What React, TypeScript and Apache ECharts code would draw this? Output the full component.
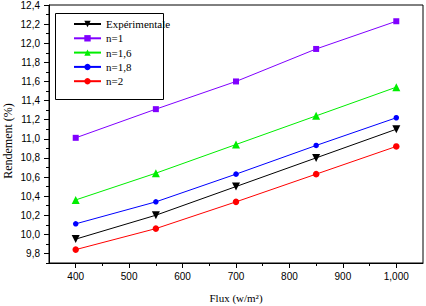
import React, { useEffect, useRef } from "react";
import * as echarts from "echarts";

const fluxValues = [400, 550, 700, 850, 1000];
const experimentale = [9.95, 10.2, 10.5, 10.8, 11.1];
const n1 = [11.01, 11.31, 11.6, 11.94, 12.23];
const n16 = [10.36, 10.64, 10.94, 11.24, 11.54];
const n18 = [10.11, 10.34, 10.63, 10.93, 11.22];
const n2 = [9.84, 10.06, 10.34, 10.63, 10.92];

const xMajor = [400, 500, 600, 700, 800, 900, 1000];
const xMinor = [450, 550, 650, 750, 850, 950];
const yMajor = [9.8, 10.0, 10.2, 10.4, 10.6, 10.8, 11.0, 11.2, 11.4, 11.6, 11.8, 12.0, 12.2, 12.4];
const yMinor = [9.7, 9.9, 10.1, 10.3, 10.5, 10.7, 10.9, 11.1, 11.3, 11.5, 11.7, 11.9, 12.1, 12.3];

const pair = (ys: number[]) => fluxValues.map((x, i) => [x, ys[i]]);

export default function App() {
  const ref = useRef<HTMLDivElement>(null);
  useEffect(() => {
    if (!ref.current) return;
    const chart = echarts.init(ref.current, undefined, { renderer: "svg" });
    const axisText = { fontFamily: "Liberation Sans", fontSize: 10, color: "#000" };
    const mkSeries = (name: string, data: number[], color: string, symbol: string, size: number, rotate = 0) => ({
      name,
      type: "line",
      data: pair(data),
      symbol,
      symbolSize: size,
      symbolRotate: rotate,
      lineStyle: { color, width: 1 },
      itemStyle: { color },
      xAxisIndex: 0,
      yAxisIndex: 0,
    });
    chart.setOption({
      animation: false,
      grid: {
        left: 49, right: 3, top: 5, bottom: 43,
        show: true, borderColor: "#000", borderWidth: 1, backgroundColor: "transparent",
      },
      xAxis: [
        {
          type: "value", min: 350, max: 1050, position: "bottom",
          axisLine: { show: true, lineStyle: { color: "#000", width: 1 } },
          axisTick: { show: true, customValues: xMajor, length: 5, lineStyle: { color: "#000" } },
          axisLabel: { customValues: xMajor, margin: 8, ...axisText },
          splitLine: { show: false },
        },
        {
          type: "value", min: 350, max: 1050, position: "bottom",
          axisLine: { show: false },
          axisTick: { show: true, customValues: xMinor, length: 3, lineStyle: { color: "#000" } },
          axisLabel: { show: false },
          splitLine: { show: false },
        },
      ],
      yAxis: [
        {
          type: "value", min: 9.7, max: 12.4, position: "left",
          axisLine: { show: true, lineStyle: { color: "#000", width: 1 } },
          axisTick: { show: true, customValues: yMajor, length: 5, lineStyle: { color: "#000" } },
          axisLabel: {
            customValues: yMajor, margin: 9, ...axisText,
            formatter: (v: number) => v.toFixed(1).replace(".", ","),
          },
          splitLine: { show: false },
        },
        {
          type: "value", min: 9.7, max: 12.4, position: "left",
          axisLine: { show: false },
          axisTick: { show: true, customValues: yMinor, length: 3, lineStyle: { color: "#000" } },
          axisLabel: { show: false },
          splitLine: { show: false },
        },
      ],
      legend: {
        orient: "vertical",
        left: 73,
        top: 18,
        padding: 0,
        itemWidth: 27,
        itemHeight: 8,
        itemGap: 2.3,
        itemTextGap: 2,
        textStyle: { fontFamily: "Liberation Serif", fontSize: 11, lineHeight: 12, color: "#000" },
        data: ["Expérimentale", "n=1", "n=1,6", "n=1,8", "n=2"],
      },
      graphic: [
        {
          type: "rect",
          shape: { x: 55.5, y: 13.5, width: 108, height: 86 },
          style: { fill: "none", stroke: "#000", lineWidth: 1 },
          z: 100,
        },
        {
          type: "text",
          x: 8,
          y: 141,
          rotation: Math.PI / 2,
          style: {
            text: "Rendement (%)",
            fontFamily: "Liberation Serif",
            fontSize: 12,
            fill: "#000",
            textAlign: "center",
            textVerticalAlign: "middle",
          },
        },
        {
          type: "text",
          x: 236,
          y: 298,
          style: {
            text: "Flux (w/m²)",
            fontFamily: "Liberation Serif",
            fontSize: 11,
            fill: "#000",
            textAlign: "center",
            textVerticalAlign: "middle",
          },
        },
      ],
      series: [
        mkSeries("Expérimentale", experimentale, "#000000", "triangle", 8, 180),
        mkSeries("n=1", n1, "#8000ff", "rect", 6),
        mkSeries("n=1,6", n16, "#00ee00", "triangle", 8),
        mkSeries("n=1,8", n18, "#0000ff", "circle", 5.5),
        mkSeries("n=2", n2, "#ff0000", "circle", 6.5),
      ],
    });
    return () => chart.dispose();
  }, []);
  return <div ref={ref} style={{ width: 426, height: 306, position: "absolute", left: 0, top: 0 }} />;
}
